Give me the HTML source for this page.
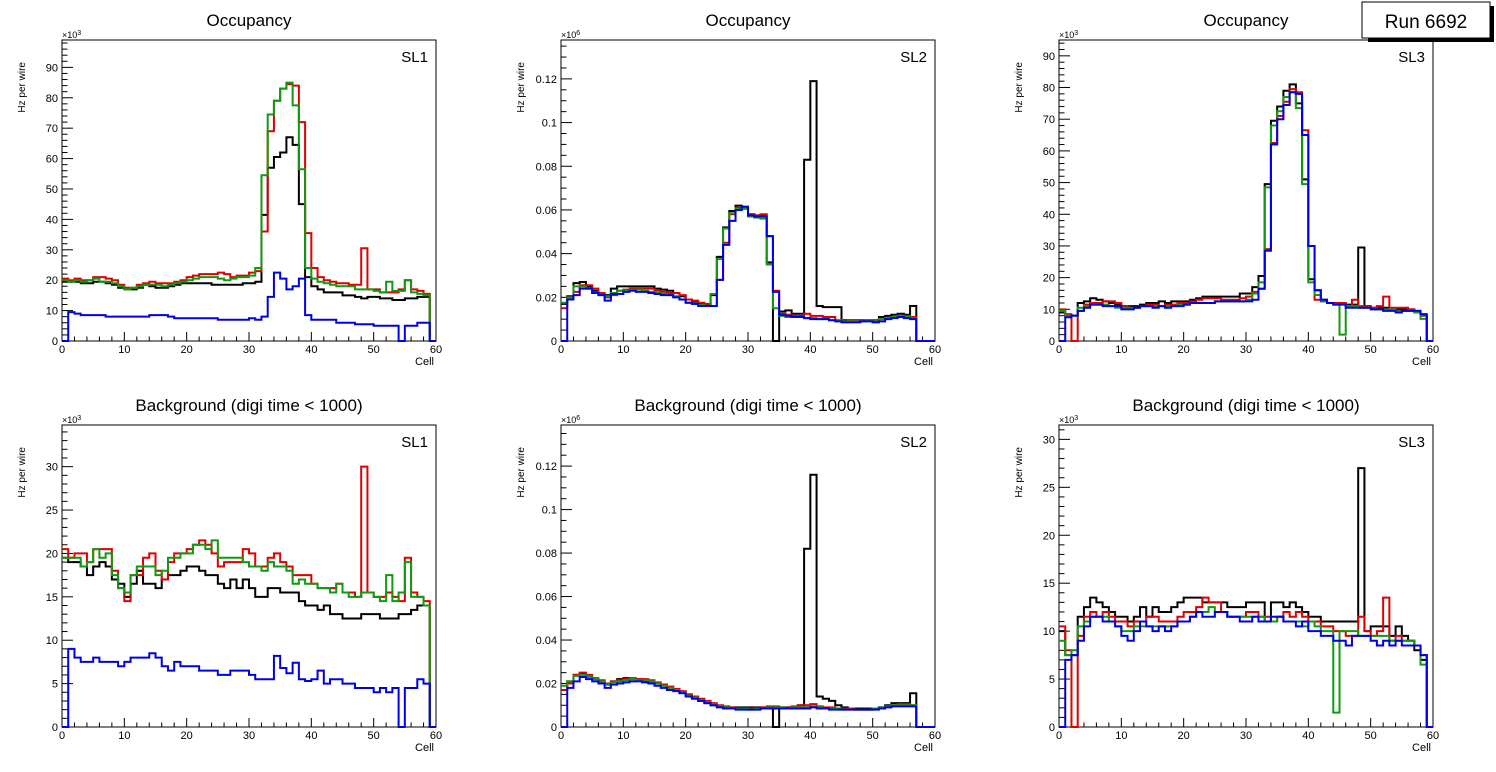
<!DOCTYPE html>
<html><head><meta charset="utf-8"><style>
body{margin:0;background:#fff;width:1496px;height:772px;overflow:hidden}
svg{display:block;font-family:"Liberation Sans",sans-serif}
</style></head><body>
<svg id="c" width="1496" height="772" xmlns="http://www.w3.org/2000/svg">
<g>
<rect x="1368" y="6" width="126" height="36" fill="#000"/>
<rect x="1362" y="2" width="128" height="36" fill="#fff" stroke="#000" stroke-width="1"/>
<text x="1426" y="28" font-size="19" text-anchor="middle">Run 6692</text>
</g>
</svg>
<script>
// Panel 1 top (x10^3)
const p1tBlack=[19.5,19.5,19.5,19,19,19.5,19.5,19,18.5,17.5,17,17,17.5,18.5,18,17.5,17.5,18,18.5,19,19,19,19,19,18.5,18.5,18.5,18.5,18.5,19,19,19.5,41.5,57,60.5,62,67,64.5,45,21,18,17,16,16,16,15,15,14.5,14,14.5,14.5,14,14,13.5,13.5,14,14,14.5,14.5,0];
const p1tRed=[20.5,20,20.5,20,20,21,21,20.5,20,18.5,17.5,17.5,18.5,19,19.5,19,19,19,19.5,20,21,21.5,22,22,22,22.5,22,21,21.5,21.5,22.5,23,36,69,79,83,84.5,84,72,35.5,24,21,20,19.5,19,19,18.5,18.5,30.5,17,17,16,16,16,17,20,17,16.5,15.5,0];
const p1tGreen=[20,19.5,20,19.5,20,20.5,19.5,19.5,19,18,17,17.5,18,18.5,18.5,18.5,18,18.5,19,19.5,20,20.5,21,21,21,20.5,20,20.5,21,21,21.5,24,54.5,74.5,79,83,85,77.5,56.5,24,20.5,19.5,19,18.5,18,18,18,17,17,17,16.5,16,19.5,16.5,16.5,20,16,15.5,15,0];
const p1tBlue=[0,9.5,9,8.5,8.5,8.5,8.5,8,8,8,8,8,8,8,8.5,8.5,8.5,8,7.5,7.5,7.5,7.5,7.5,7.5,7.5,7,7,7,7,7,7.5,7,8,14.5,22.5,20.5,17,18,20.5,8.5,7,7,7,7,6,6,6,5.5,5.5,5.5,5,5,5,5,0,5,5,6,6,0];
// Panel 2 top (x10^3 -> axis x10^6)
const p2tBlack=[17,20.5,26.5,27,25,23,21.5,21,24,25,25,25,25,25,25,24,23.5,23,22,20.5,19,18,17,16.5,21,38.5,52,59.5,62,61,58,57.5,57.5,36,0,13.5,14,12.5,12.5,83,119,16,15.5,15.5,15.5,9.5,9.5,9.5,9.5,9.5,9.5,11,11.5,12,12.5,12,16,0,0,0];
const p2tRed=[15,20,22.5,25.5,25.5,24,22,20,21,23,23.5,24,24,24,24,23,22.5,22,22,21,19,18.5,17.5,17,16,28,45,58,61,61,58,57.5,58,48,23,12.5,12,11.5,11.5,12.5,11.5,11.5,11,11,9.5,9,9.5,9.5,9.5,9.5,9.5,10,10.5,11,11.5,11.5,11,0,0,0];
const p2tGreen=[17.5,20,25,25,24,22,21,20.5,22,23,23,23.5,23.5,23,22.5,22,21.5,21,20.5,19,17.5,17,16.5,16,21.5,37.5,51.5,58.5,60.5,60.5,57,56.5,56,35,15,11.5,11,11,11,10.5,10.5,10,10,9.5,9.5,9,9,9,9,9.5,9,10,10.5,11,11.5,11,10.5,0,0,0];
const p2tBlue=[0,19,21,24,24,22,21,18.5,21.5,21.5,22.5,23,22.5,22.5,22,21.5,21,21,20,19,17.5,17,16,16,16,28,44,55,60,61.5,57.5,57,57,48,22.5,12,11.5,11,11,10.5,10,10,10,9.5,9,8.5,8.5,8.5,9,9,8.5,9,10,10.5,11,10.5,10,0,0,0];
// Panel 3 top (x10^3)
const p3tBlack=[9,8,8,12,12.5,13.5,13,12.5,12,11.5,11,11,11,11.5,12,12,12.5,12,12.5,12.5,12.5,13,13.5,14,14,14,14,14,14,15,15,17,20.5,49.5,69.5,74,79,81,75,51,19.5,16,13,12,12,12,11.5,11.5,29.5,11,10.5,10.5,10.5,10,10,10,10,9.5,8,0];
const p3tRed=[10,8.5,0,9.5,11.5,12,12,12.5,12.5,12,11,10.5,10.5,11,11.5,11.5,11,11.5,11.5,12,12,12.5,13,13.5,13.5,13.5,13,13,13,13.5,14,15.5,16.5,29,62.5,71,75.5,79.5,78.5,66.5,30,13,12.5,12,12,12,11,13,11,11,10.5,11,14,10.5,10.5,10.5,10,9,8,0];
const p3tGreen=[9.5,8,8,10.5,11,11.5,11.5,11.5,11,10.5,10.5,10.5,10.5,11,11,11,11,11,11,11.5,11.5,12,12,12,12,12.5,12.5,12.5,12.5,12.5,13,15,18.5,48.5,68,72.5,77,78.5,73.5,49.5,18.5,14.5,12.5,12,11.5,2,11,11,10.5,10.5,10,10,10,10,9.5,9.5,9.5,9,7,0];
const p3tBlue=[0,7.5,8,9.5,10.5,11.5,11.5,11,11,11,10,10,10.5,11,11,10.5,11,10.5,11,11,11.5,12,12,12,12,12.5,12.5,12.5,12.5,12.5,12.5,13,16.5,28.5,62,70,74.5,78.5,78,65,30,16,13,12,11.5,11.5,10.5,10.5,10.5,10.5,10,10,9.5,9.5,9,9.5,9.5,9.5,8.5,0];
// Panel 1 bottom (x10^3)
const p1bBlack=[19.5,19,19,18.5,17.5,18.5,19,18.5,17,16.5,15,16.5,18,16.5,16.5,16,17,17.5,17.5,18,18.5,18.5,18,17.5,17.5,16.5,16,17,16,17,16,15,15,16,16,15.5,15.5,15.5,14.5,14,14,13.5,14,13,13,12.5,12.5,12.5,13,13,13,12.5,12.5,12.5,13,13,13.5,14,14,0];
const p1bRed=[20.5,19.5,20,20,19,20.5,20.5,20.5,18,16,14.5,17.5,17.5,19.5,20,18,17,19,20,20,20.5,21,21.5,21,20,18.5,19,19,19,20.5,20,18.5,18.5,19.5,20,19,18.5,17.5,17.5,17.5,16.5,16,16,16,16.5,15.5,15.5,15,30,15.5,15,15,15.5,15,14.5,19.5,15.5,15,14.5,0];
const p1bGreen=[19.5,19.5,19.5,18.5,19,20.5,19.5,20,17.5,16,15.5,17.5,18.5,18.5,18.5,17.5,18,19.5,19.5,20,20,21,21,20.5,21.5,19.5,19.5,19.5,19.5,19,18.5,18.5,18,19,18.5,18.5,18,16.5,17,16.5,16.5,16,16,15.5,16.5,15.5,15,15,15.5,15.5,15,14.5,17.5,14.5,15.5,19,15,15,14,0];
const p1bBlue=[0,9,8,7.5,7.5,8,7.5,7.5,7.5,7,7.5,8,8,8,8.5,8,7,6.5,7.5,7,7,7,6.5,6.5,6.5,6,6,6.5,6.5,6.5,6,5.5,5.5,5.5,8.2,6.8,6.2,7.4,5.5,5.3,5.5,6.5,5,5.5,5.5,5,5,4.5,4.5,4.5,4,4.5,4,4.5,0,4.5,4.5,5.5,5,0];
// Panel 2 bottom
const p2bBlack=[17,21,24,24.5,23,22,21,19.5,21,22,22.5,22,22,21,21,20,19.5,18.5,17.5,16,15,13.5,12,11,10,9.5,9,9,9,9,9,9,9,9,0,9,9,8.5,10,82,116,14,13,12,10,9,8.5,8.5,8.5,8.5,8.5,9,10,11,11,11,15.5,0,0,0];
const p2bRed=[17,20,24,25,24,22.5,21.5,20,21,21.5,22,22.5,22,22,21.5,20.5,19.5,18.5,17.5,16.5,15,14,13,12,11,10,9.5,9,8.5,8.5,8.5,8.5,9,9.5,9.5,9,9,9.5,10,10,10.5,9.5,9,9,8.5,8.5,8.5,8,8,8,8.5,9,9.5,10,10.5,10.5,10,0,0,0];
const p2bGreen=[19,21,23.5,24,23,22,21,19.5,20.5,21,21.5,22,21.5,21.5,21,20,19,18,17,16,14.5,13.5,12.5,11.5,10.5,9.5,9,8.5,8.5,8.5,8,8.5,8.5,9,9,9,8.5,9,9,9,9.5,9,8.5,8.5,8.5,8,8,8,8,8,8.5,9,9.5,10,10,10,10,0,0,0];
const p2bBlue=[0,18,21,23,22,21,20,18,19.5,20,20.5,21,21,20.5,20,19,18,17,16.5,15.5,14,13,12,11,10,9,8.5,8.5,8,8,8,8,8.5,8.5,8.5,8.5,8.5,8.5,8.5,8.5,9,8.5,8.5,8,8,8,8,8,8,8,8,8.5,9,9.5,9.5,9.5,9.5,0,0,0];
// Panel 3 bottom (x10^3)
const p3bBlack=[10,7.5,7.5,11.5,12.5,13.5,13,12.5,12,11.5,11.5,11,11.5,12.5,11.5,12.5,12,12,12.5,13,13.5,13.5,13.5,13,13,13,13,12.5,12.5,12.5,13,13,13,11,13,13,12.5,13,12.5,12,11.5,11.5,11,11,11,11,11,11,27,10,10.5,10.5,10.5,9.5,10.5,9.5,9,8,7,0];
const p3bRed=[10.5,8,0,9.5,11.5,12,11.5,12,11.5,11,11,10.5,11,11,11.5,11.5,11,11,11,11.5,12,12,12.5,13.5,13,13,12,11.5,11.5,11.5,12,12,11.5,11.5,11,11.5,12,11.5,12,11.5,11,11,10.5,10.5,10,10,9.5,9.5,11.5,10,9.5,10,13.5,9,9.5,9,9,8.5,7.5,0];
const p3bGreen=[9,7.5,8,10.5,11,11.5,11.5,11.5,11,10.5,10,10,10.5,10.5,10.5,10.5,10.5,10.5,10.5,11,11,11.5,12,12,12.5,12,12,11.5,11.5,11.5,11.5,11.5,11.5,11,11,11.5,11,11,11,10.5,11,10.5,10,10,1.5,10,10,10,9.5,9.5,9.5,9.5,9.5,9,9,9,9,8.5,6.5,0];
const p3bBlue=[0,7,7.5,9,10.5,11.5,11.5,11,11,10.5,9.5,9,10,11,10.5,10,10.5,10,10.5,11,11,11.5,12,11.5,11.5,12,12,11.5,11.5,11,11,11.5,11,11,11.5,11.5,11,11,10.5,11,10,10,9.5,9.5,9,9,8.5,9.5,9.5,9.5,9,8.5,9,8.5,9,8.5,8.5,8.5,7.5,0];

const xTicks=[0,10,20,30,40,50,60];
const yT1=["0","10","20","30","40","50","60","70","80","90"];
const yT2=["0","0.02","0.04","0.06","0.08","0.1","0.12"];
const yTb1=["0","5","10","15","20","25","30"];

const NS="http://www.w3.org/2000/svg";
const svg=document.getElementById('c');
function el(t,a,p){const e=document.createElementNS(NS,t);for(const k in a)e.setAttribute(k,a[k]);(p||svg).appendChild(e);return e;}
const colors={black:"#000",red:"#e00000",green:"#119911",blue:"#0000e6"};

function panel(o){
  const g=el('g',{});
  
  
  const L=o.x,R=o.x+374,T=o.y,B=o.y+o.h;
  const xs=v=>L+(v/60)*(R-L);
  const ys=v=>B-(v/o.ymax)*(B-T);
  const fr=el('rect',{x:L,y:T,width:R-L,height:B-T,fill:'none',stroke:'#000','stroke-width':1},g);
  
  
  // x ticks
  for(let c=0;c<=60;c+=2){
    const major=c%10===0;
    el('line',{x1:xs(c),x2:xs(c),y1:B,y2:B-(major?9:4.5),stroke:'#000','stroke-width':1},g);
  }
  xTicks.forEach(c=>{
    const t=el('text',{x:xs(c),y:B+12,'font-size':11,'text-anchor':'middle'},g);
    t.textContent=String(c);
    
    
  });
  // y ticks
  for(let v=0;v<=o.ymax;v+=o.minor){
    const major=Math.abs(v/o.major-Math.round(v/o.major))<1e-6;
    el('line',{x1:L,x2:L+(major?11:5.5),y1:ys(v),y2:ys(v),stroke:'#000','stroke-width':1},g);
  }
  o.labels.forEach((s,i)=>{
    const t=el('text',{x:L-4,y:ys(i*o.major)+4,'font-size':11,'text-anchor':'end'},g);
    t.textContent=s;
    
    
  });
  const ex=el('text',{x:L,y:T-2,'font-size':9},g);
  ex.textContent='×10';
  const sup=el('tspan',{dy:-3,'font-size':7},ex);
  sup.textContent=o.exp;
  
  
  const yl=el('text',{x:0,y:0,'font-size':10,'text-anchor':'end',transform:`translate(${L-37},${T+22}) rotate(-90)`},g);
  yl.textContent='Hz per wire';
  
  
  const xl=el('text',{x:R-2,y:B+24,'font-size':11,'text-anchor':'end'},g);
  xl.textContent='Cell';
  
  
  const ti=el('text',{x:(L+R)/2,y:T-14,'font-size':17,'text-anchor':'middle'},g);
  ti.textContent=o.title;
  
  
  const sl=el('text',{x:R-8,y:T+22,'font-size':15,'text-anchor':'end'},g);
  sl.textContent=o.sl;
  
  
  o.series.forEach(([key,arr])=>{
    let d=`M${xs(0)},${ys(arr[0])}`;
    for(let i=0;i<arr.length;i++){
      if(i>0)d+=`V${ys(arr[i])}`;
      d+=`H${xs(i+1)}`;
    }
    const p=el('path',{d,fill:'none',stroke:colors[key],'stroke-width':2},g);
    
    
  });
}
const X=[62,561,1059];
panel({name:'occupancy-sl1',x:X[0],y:40,h:301,ymax:99,major:10,minor:2,labels:yT1,exp:'3',title:'Occupancy',sl:'SL1',series:[['black',p1tBlack],['red',p1tRed],['green',p1tGreen],['blue',p1tBlue]]});
panel({name:'occupancy-sl2',x:X[1],y:40,h:301,ymax:137.8,major:20,minor:5,labels:yT2,exp:'6',title:'Occupancy',sl:'SL2',series:[['black',p2tBlack],['red',p2tRed],['green',p2tGreen],['blue',p2tBlue]]});
panel({name:'occupancy-sl3',x:X[2],y:40,h:301,ymax:95,major:10,minor:2,labels:yT1,exp:'3',title:'Occupancy',sl:'SL3',series:[['black',p3tBlack],['red',p3tRed],['green',p3tGreen],['blue',p3tBlue]]});
panel({name:'background-sl1',x:X[0],y:425,h:302,ymax:34.8,major:5,minor:1,labels:yTb1,exp:'3',title:'Background (digi time < 1000)',sl:'SL1',series:[['black',p1bBlack],['red',p1bRed],['green',p1bGreen],['blue',p1bBlue]]});
panel({name:'background-sl2',x:X[1],y:425,h:302,ymax:138.9,major:20,minor:5,labels:yT2,exp:'6',title:'Background (digi time < 1000)',sl:'SL2',series:[['black',p2bBlack],['red',p2bRed],['green',p2bGreen],['blue',p2bBlue]]});
panel({name:'background-sl3',x:X[2],y:425,h:302,ymax:31.5,major:5,minor:1,labels:yTb1,exp:'3',title:'Background (digi time < 1000)',sl:'SL3',series:[['black',p3bBlack],['red',p3bRed],['green',p3bGreen],['blue',p3bBlue]]});
</script>
</body></html>
